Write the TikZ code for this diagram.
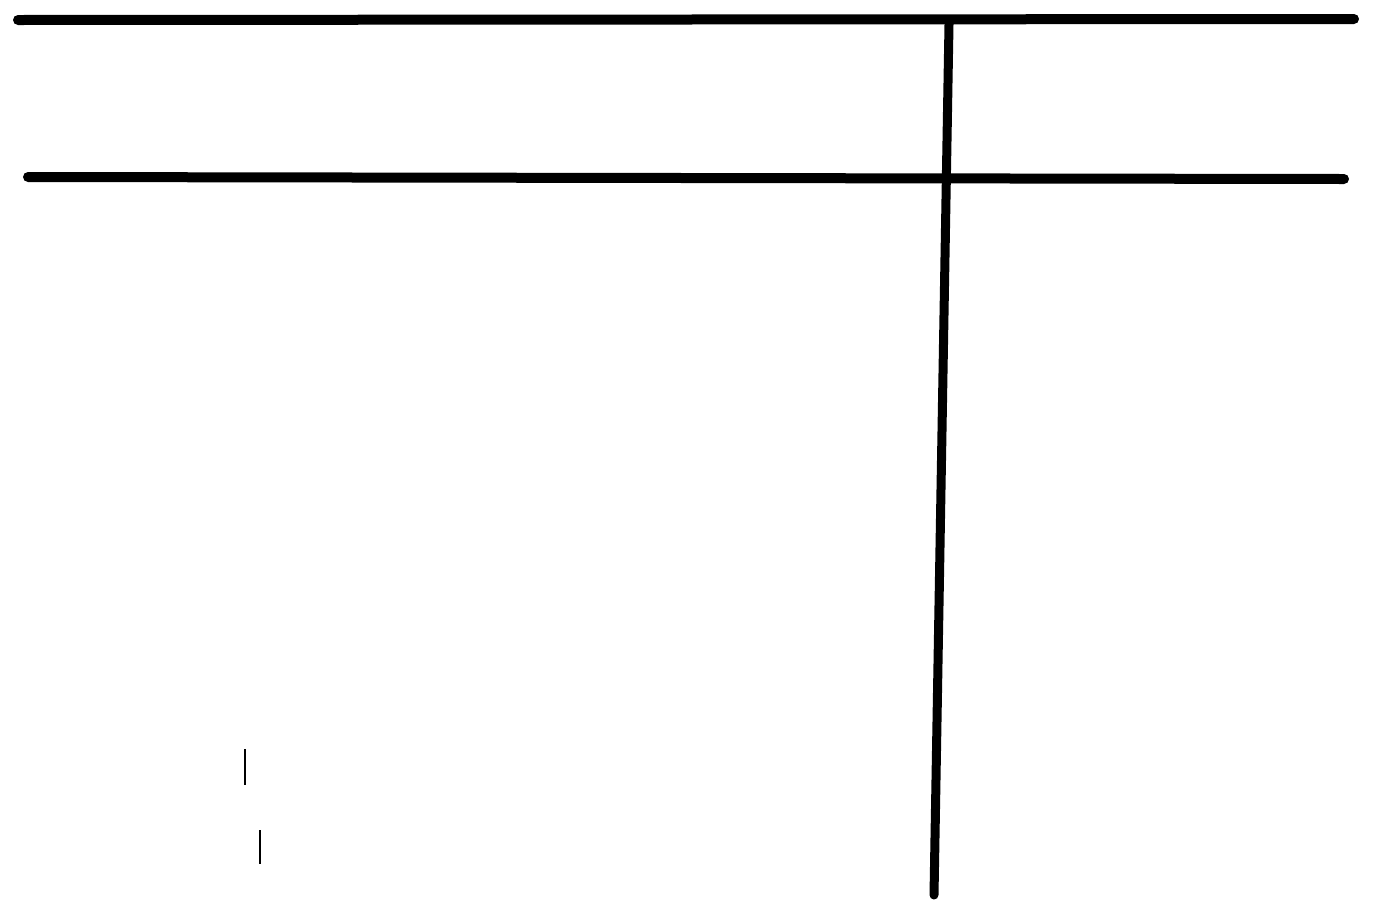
\documentclass[tikz,border=0pt]{standalone}
\begin{document}
\begin{tikzpicture}[x=0.5pt,y=-0.5pt,
  rule/.style={line width=5pt,line cap=round,black},
  tick/.style={line width=0.9pt,black}]
\useasboundingbox (0,0) rectangle (1384,922);
\coordinate (t1) at (18,20);
\coordinate (t2) at (1354,19);
\coordinate (m1) at (28,177);
\coordinate (m2) at (1344,179);
\coordinate (vtop) at (949,24);
\coordinate (vbot) at (934,895);
\draw[rule] (t1) -- (t2);
\draw[rule] (m1) -- (m2);
\draw[line width=4.5pt,line cap=round] (vtop) -- (vbot);
\draw[tick] (245,749) -- (245,785);
\draw[tick,line width=0.7pt] (260,830) -- (260,864);
\end{tikzpicture}
\end{document}
